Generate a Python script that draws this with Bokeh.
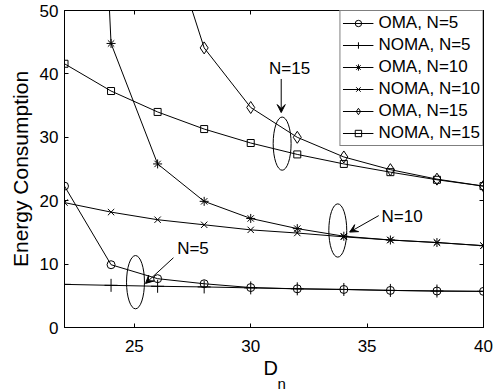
from bokeh.plotting import figure
from bokeh.models import (Range1d, FixedTicker, LinearAxis, Legend, LegendItem,
                          Arrow, VeeHead, Label, Title, CustomJSTickFormatter)
from bokeh.embed import file_html
from bokeh.resources import INLINE

# ---- data ----
d_n = [22, 24, 26, 28, 30, 32, 34, 36, 38, 40]
oma_5 = [22.3, 9.9, 7.7, 6.9, 6.3, 6.1, 6.0, 5.85, 5.75, 5.7]
noma_5 = [6.8, 6.65, 6.5, 6.4, 6.25, 6.1, 6.0, 5.85, 5.75, 5.7]
oma_10 = [200.0, 44.8, 25.8, 19.9, 17.2, 15.6, 14.4, 13.8, 13.4, 12.9]
noma_10 = [19.7, 18.2, 17.0, 16.2, 15.4, 14.9, 14.3, 13.8, 13.4, 12.9]
oma_15 = [250.0, 120.0, 67.0, 44.1, 34.7, 30.0, 26.9, 24.9, 23.4, 22.3]
noma_15 = [41.6, 37.3, 34.0, 31.3, 29.1, 27.3, 25.8, 24.5, 23.3, 22.3]

series_labels = ["OMA, N=5", "NOMA, N=5", "OMA, N=10", "NOMA, N=10", "OMA, N=15", "NOMA, N=15"]
x_ticks = [25, 30, 35, 40]
y_ticks = [0, 10, 20, 30, 40, 50]
group_labels = ["N=5", "N=10", "N=15"]

FONT = "Liberation Sans"

p = figure(width=500, height=392, x_range=Range1d(22, 40), y_range=Range1d(0, 50),
           output_backend="svg", toolbar_location=None,
           min_border_left=64, min_border_right=17, min_border_top=10, min_border_bottom=65)
p.background_fill_color = "white"
p.border_fill_color = "white"
p.outline_line_color = "black"
p.outline_line_width = 1
p.grid.visible = False

for ax in (p.xaxis, p.yaxis):
    ax.major_tick_in = 4
    ax.major_tick_out = 0
    ax.minor_tick_in = 0
    ax.minor_tick_out = 0
    ax.axis_line_color = "black"
    ax.major_tick_line_color = "black"
    ax.major_label_text_font = FONT
    ax.major_label_text_font_size = "17px"
    ax.major_label_text_color = "black"
    ax.axis_label_text_font = FONT
    ax.axis_label_text_font_style = "normal"
    ax.axis_label_text_color = "black"

p.xaxis.ticker = FixedTicker(ticks=x_ticks)
p.yaxis.ticker = FixedTicker(ticks=y_ticks)
p.xaxis.major_label_standoff = 12
p.yaxis.major_label_standoff = 6
p.yaxis.axis_label = "Energy Consumption"
p.yaxis.axis_label_text_font_size = "21px"
p.yaxis.axis_label_standoff = 5

# mirrored ticks on top and right
for loc, tk in (("above", x_ticks), ("right", y_ticks)):
    ax = LinearAxis(ticker=FixedTicker(ticks=tk),
                    formatter=CustomJSTickFormatter(code="return ''"),
                    major_tick_in=4, major_tick_out=0, minor_tick_in=0, minor_tick_out=0,
                    major_label_standoff=0, major_label_text_font_size="1px",
                    axis_line_color="black")
    p.add_layout(ax, loc)

series = [oma_5, noma_5, oma_10, noma_10, oma_15, noma_15]
markers = ["circle", "cross", "asterisk", "x", "diamond", "square"]
sizes = [8, 13, 9, 9, 12, 7]

items = []
for lab, ys, mk, sz in zip(series_labels, series, markers, sizes):
    lr = p.line(d_n, ys, line_color="black", line_width=1)
    sr = p.scatter(d_n, ys, marker=mk, size=sz, line_color="black", fill_color=None, line_width=1)
    items.append(LegendItem(label=lab, renderers=[lr, sr]))

legend = Legend(items=items, location="top_right", margin=0, padding=2, spacing=2,
                glyph_width=31, glyph_height=16, label_height=16, label_standoff=5,
                label_text_font=FONT, label_text_font_size="17px", label_text_color="black",
                border_line_color="black", border_line_width=1,
                background_fill_color="white", background_fill_alpha=1)
p.add_layout(legend)

# annotations: ellipses, arrows and texts
ell_x = [25.05, 33.74, 31.35]
ell_y = [7.15, 15.3, 29.0]
p.ellipse(x=ell_x, y=ell_y, width=0.77, height=8.4, fill_color=None, line_color="black", line_width=1)

arrows = [((26.68, 11.0), (25.48, 6.95)),
          ((35.5, 17.65), (34.25, 15.05)),
          ((31.31, 39.2), (31.31, 33.9))]
for (xs, ys), (xe, ye) in arrows:
    p.add_layout(Arrow(x_start=xs, y_start=ys, x_end=xe, y_end=ye,
                       line_color="black", line_width=1,
                       end=VeeHead(size=8, line_color="black", fill_color="black", line_width=1)))

text_pos = [(27.52, 12.4), (36.5, 17.5), (31.67, 40.8)]
for t, (tx, ty) in zip(group_labels, text_pos):
    p.add_layout(Label(x=tx, y=ty, text=t, text_align="center", text_baseline="middle",
                       text_font=FONT, text_font_size="17px", text_color="black"))

# x axis label D with subscript n, as titles below the axis
p.add_layout(Title(text="D", align="left", offset=199, standoff=0,
                   text_font=FONT, text_font_size="20px", text_font_style="normal",
                   text_color="black"), "below")
p.add_layout(Title(text="n", align="left", offset=213, standoff=-12,
                   text_font=FONT, text_font_size="15px", text_font_style="normal",
                   text_color="black"), "below")

open("out.html", "w").write(file_html(p, INLINE))
